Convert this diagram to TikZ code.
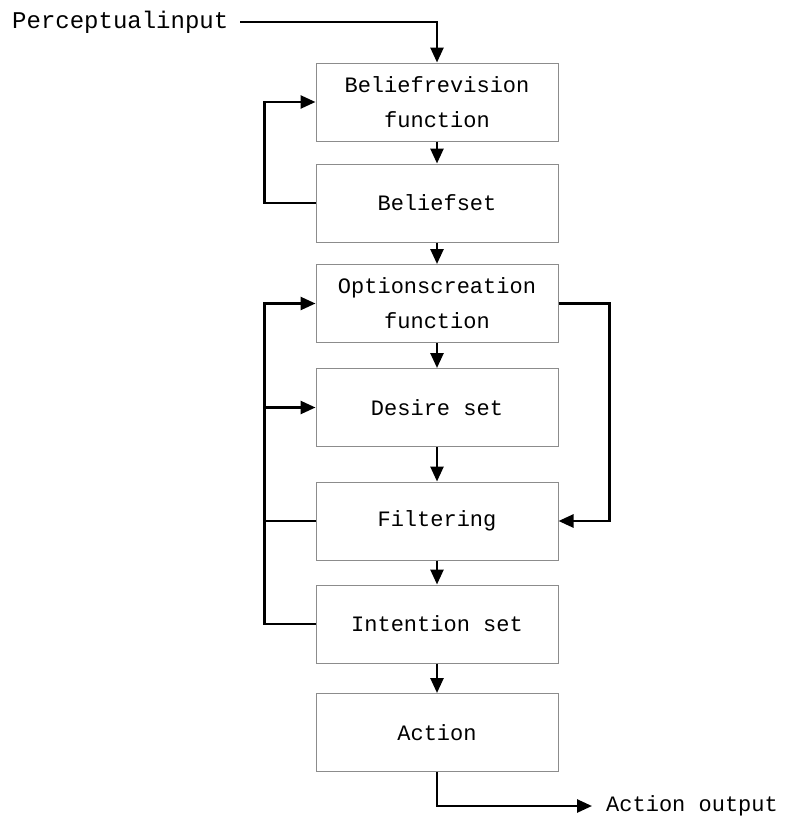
\documentclass[tikz,border=0pt]{standalone}
\usepackage{fontspec}
\setmonofont{Liberation Mono}
\usetikzlibrary{arrows.meta}
\begin{document}
\begin{tikzpicture}[x=1pt,y=-1pt,
  box/.style={draw=black!45,line width=1pt,minimum width=242pt,minimum height=78pt,inner sep=0pt,align=center,font=\ttfamily\fontsize{22}{35}\selectfont},
  lbl/.style={inner sep=0pt,font=\ttfamily\fontsize{22}{26}\selectfont},
  arr/.style={line width=2.6pt,-{Triangle[length=15pt,width=13pt]}},
  ln/.style={line width=2.6pt}]
\useasboundingbox (0,0) rectangle (787,819);
\node[box] (brf) at (437,102) {Beliefrevision\\function};
\node[box] (bs) at (437,203) {Beliefset};
\node[box] (ocf) at (437,303.5) {Optionscreation\\function};
\node[box] (ds) at (437,407.5) {Desire set};
\node[box] (fi) at (437,521) {Filtering};
\node[box] (is) at (437,624) {Intention set};
\node[box] (ac) at (437,732.5) {Action};
\node[lbl,anchor=west,font=\ttfamily\fontsize{24}{26}\selectfont] (pin) at (12,22) {Perceptualinput};
\node[lbl,anchor=west] (aout) at (606,806) {Action output};
\coordinate (pstart) at (240,22);
\coordinate (aend) at (592,806);
\draw[arr] (pstart) -| (brf.north);
\draw[arr] (brf) -- (bs);
\draw[arr] (bs) -- (ocf);
\draw[arr] (ocf) -- (ds);
\draw[arr] (ds) -- (fi);
\draw[arr] (fi) -- (is);
\draw[arr] (is) -- (ac);
\draw[arr] (bs.west) -- ++(-51,0) |- (brf.west);
\draw[arr] (is.west) -- ++(-51,0) |- (ocf.west);
\draw[arr] (265,407.5) -- (ds.west);
\draw[ln] (fi.west) -- (265,521);
\draw[arr] (ocf.east) -- ++(51,0) |- (fi.east);
\draw[arr] (ac.south) |- (aend);
\end{tikzpicture}
\end{document}
